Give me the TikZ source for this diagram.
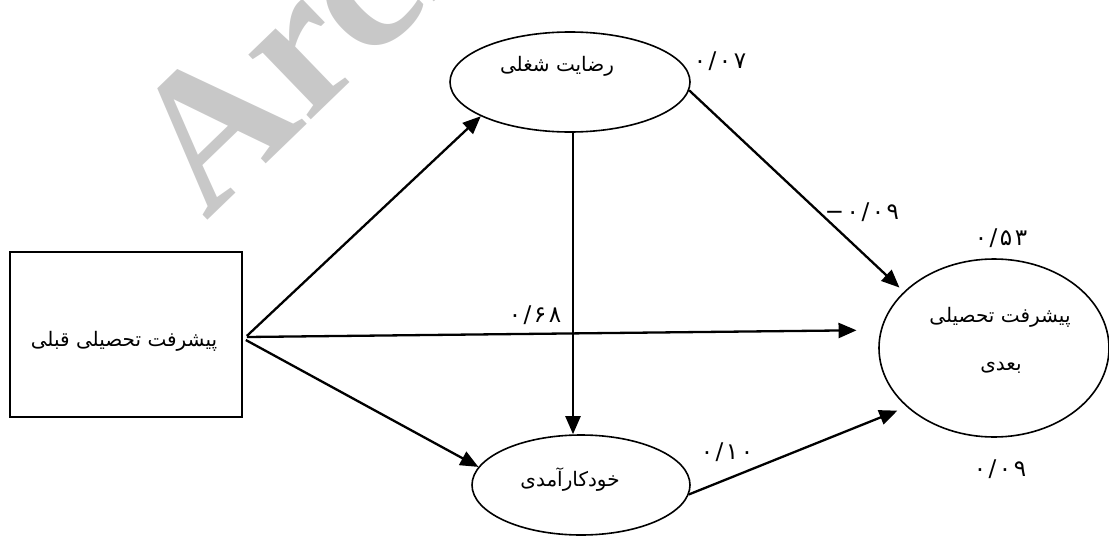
\documentclass[tikz,border=0pt]{standalone}
\usepackage{fontspec}
\usetikzlibrary{arrows.meta,shapes.geometric}
\TeXXeTstate=1
\newfontfamily\arabicfont[Script=Arabic]{DejaVu Sans}
\newfontfamily\wmfont{Liberation Serif}
\newcommand\digsp{\kern2.5pt}
\begin{document}
\begin{tikzpicture}[x=1pt,y=-1pt,
  shapeline/.style={draw, line width=1.6pt},
  boxnode/.style={shapeline, rectangle, inner sep=0pt},
  ell/.style={shapeline, ellipse, inner sep=0pt},
  arr/.style={line width=2.3pt, -{Triangle[length=18pt,width=15pt]}},
  lbl/.style={font=\arabicfont\fontsize{20}{24}\selectfont, inner sep=0pt},
  num/.style={font=\arabicfont\fontsize{23}{26}\selectfont, inner sep=0pt},
  wm/.style={font=\wmfont\bfseries\fontsize{196}{200}\selectfont, text={rgb,255:red,200;green,200;blue,200}, inner sep=0pt},
]
\useasboundingbox (0,0) rectangle (1109,538);
\begin{scope}
  \clip (0,0) rectangle (1109,538);
  \node[wm, rotate=44, anchor=base west] (wmark) at (206,222) {Archive of SID};
\end{scope}

% shapes
\node[boxnode, minimum width=232pt, minimum height=165pt] (pre) at (126,334.5) {};
\node[ell, minimum width=240pt, minimum height=100pt] (sat) at (570,82) {};
\node[ell, minimum width=218pt, minimum height=100pt] (self) at (581,485) {};
\node[ell, minimum width=230pt, minimum height=178pt] (post) at (994,348) {};

% texts
\node[lbl] (pretxt) at (124,341) {\beginR پیشرفت تحصیلی قبلی\endR};
\node[lbl] (sattxt) at (557,66) {\beginR رضایت شغلی\endR};
\node[lbl] (selftxt) at (570,480) {\beginR خودکارآمدی\endR};
\node[lbl] (posttxt1) at (1000,317) {\beginR پیشرفت تحصیلی\endR};
\node[lbl] (posttxt2) at (1001,368) {\beginR بعدی\endR};

% numbers
\node[num] (n1) at (720,61) {\hbox{۰}\digsp\hbox{/}\digsp\hbox{۰}\digsp\hbox{۷}};
\node[num] (n2) at (862,212) {\hbox{−}\digsp\hbox{۰}\digsp\hbox{/}\digsp\hbox{۰}\digsp\hbox{۹}};
\node[num] (n3) at (1001,238) {\hbox{۰}\digsp\hbox{/}\digsp\hbox{۵}\digsp\hbox{۳}};
\node[num] (n4) at (1000,469) {\hbox{۰}\digsp\hbox{/}\digsp\hbox{۰}\digsp\hbox{۹}};
\node[num] (n5) at (535,315) {\hbox{۰}\digsp\hbox{/}\digsp\hbox{۶}\digsp\hbox{۸}};
\node[num] (n6) at (727,452) {\hbox{۰}\digsp\hbox{/}\digsp\hbox{۱}\digsp\hbox{۰}};

% connectors
\draw[arr] ([shift={(4pt,-1.5pt)}]pre.east) -- (sat.201);
\draw[arr] ([shift={(4pt,-2.5pt)}]pre.east) -- (post.171) [shorten >=24pt];
\draw[arr] ([shift={(3pt,-5.5pt)}]pre.east) -- (self.170);
\draw[arr] ([xshift=3pt]sat.south) -- ([xshift=3pt]sat.south |- self.north);
\draw[arr, shorten >=6pt] (sat.-4) -- (post.148);
\draw[arr, shorten >=10pt] (self.-5) -- (post.214);
\end{tikzpicture}
\end{document}
